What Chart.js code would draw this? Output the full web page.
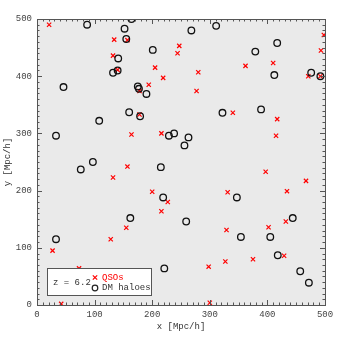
<!DOCTYPE html>
<html>
<head>
<meta charset="utf-8">
<script src="https://cdn.jsdelivr.net/npm/chart.js@4/dist/chart.umd.min.js"></script>
<style>
  html, body { margin: 0; padding: 0; background: #fff; }
  #canvas { display: block; }
</style>
</head>
<body>
<canvas id="canvas" width="343" height="343"></canvas>
<script>
const ctx = document.getElementById("canvas");

// QSO positions [Mpc/h]
const qsoX = [21, 134, 157, 132, 140, 205, 219, 194, 178, 178, 164, 216, 247, 244,
  498, 493, 280, 362, 410, 277, 471, 492, 340, 417, 415, 157, 132, 200, 227, 216,
  155, 128, 27, 73, 397, 467, 331, 434, 432, 402, 329, 375, 327, 298, 429, 42, 300];
const qsoY = [490, 464, 463, 436, 411, 415, 397, 385, 374, 333, 298, 300, 453, 440,
  472, 445, 407, 418, 423, 374, 400, 400, 336, 325, 296, 242, 223, 198, 180, 164,
  135, 115, 95, 64, 233, 217, 197, 199, 146, 136, 131, 80, 76, 67, 86, 2, 4];

// DM halo positions [Mpc/h]
const haloX = [87, 164, 152, 155, 201, 141, 140, 132, 46, 175, 177, 190, 160, 179,
  108, 33, 229, 238, 268, 311, 417, 379, 476, 412, 492, 322, 389, 263, 256, 97, 76,
  215, 219, 162, 33, 221, 347, 259, 444, 354, 405, 418, 457, 472];
const haloY = [490, 500, 483, 465, 446, 431, 410, 406, 381, 382, 378, 369, 337, 330,
  322, 296, 296, 300, 480, 488, 458, 443, 406, 402, 400, 336, 342, 293, 279, 250, 237,
  241, 188, 152, 115, 64, 188, 146, 152, 119, 119, 87, 59, 39];

const axisTicks = [0, 100, 200, 300, 400, 500];
const legendLabel = "z = 6.2";

const toPoints = (xs, ys) => xs.map((x, i) => ({ x: x, y: ys[i] }));

const textFont = "'Liberation Mono', 'DejaVu Sans Mono', monospace";

const frame = {
  id: "frame",
  beforeDatasetsDraw(chart) {
    const { ctx, chartArea: a } = chart;
    ctx.save();
    // light grey stands in for the particle field
    ctx.fillStyle = "#eaeaea";
    ctx.fillRect(a.left, a.top, a.right - a.left, a.bottom - a.top);
    ctx.restore();
  },
  afterDatasetsDraw(chart) {
    const { ctx, chartArea: a, scales } = chart;
    ctx.save();

    // legend box
    const lx = Math.round(scales.x.getPixelForValue(18)), ly = Math.round(scales.y.getPixelForValue(64));
    const lw = 104, lh = 27;
    ctx.fillStyle = "#fff";
    ctx.fillRect(lx, ly, lw, lh);
    ctx.strokeStyle = "#555";
    ctx.lineWidth = 1;
    ctx.strokeRect(lx + 0.5, ly + 0.5, lw, lh);

    ctx.font = "9px " + textFont;
    ctx.textBaseline = "middle";
    ctx.textAlign = "left";
    ctx.fillStyle = "#333";
    ctx.fillText(legendLabel, lx + 6, ly + 15);

    // QSO marker
    const mx = lx + 48;
    ctx.strokeStyle = "red";
    ctx.lineWidth = 1.2;
    ctx.beginPath();
    ctx.moveTo(mx - 2.2, ly + 7.3); ctx.lineTo(mx + 2.2, ly + 11.7);
    ctx.moveTo(mx + 2.2, ly + 7.3); ctx.lineTo(mx - 2.2, ly + 11.7);
    ctx.stroke();
    ctx.fillStyle = "red";
    ctx.fillText(chart.data.datasets[0].label, lx + 55, ly + 9.5);

    // halo marker
    ctx.strokeStyle = "#222";
    ctx.beginPath();
    ctx.arc(mx, ly + 20, 2.8, 0, Math.PI * 2);
    ctx.stroke();
    ctx.fillStyle = "#333";
    ctx.fillText(chart.data.datasets[1].label, lx + 55, ly + 20);

    // frame and inward ticks on all sides
    ctx.strokeStyle = "#555";
    ctx.lineWidth = 1;
    ctx.strokeRect(Math.round(a.left) + 0.5, Math.round(a.top) + 0.5,
      Math.round(a.right - a.left), Math.round(a.bottom - a.top));
    ctx.beginPath();
    for (let v = 0; v <= 500; v += 10) {
      const len = v % 100 === 0 ? 5 : 2.5;
      const px = Math.round(scales.x.getPixelForValue(v)) + 0.5;
      const py = Math.round(scales.y.getPixelForValue(v)) + 0.5;
      ctx.moveTo(px, a.bottom); ctx.lineTo(px, a.bottom - len);
      ctx.moveTo(px, a.top); ctx.lineTo(px, a.top + len);
      ctx.moveTo(a.left, py); ctx.lineTo(a.left + len, py);
      ctx.moveTo(a.right, py); ctx.lineTo(a.right - len, py);
    }
    ctx.stroke();
    ctx.restore();
  },
};

const data = {
  datasets: [
    {
      label: "QSOs",
      data: toPoints(qsoX, qsoY),
      pointStyle: "crossRot",
      pointRadius: 3,
      pointBorderColor: "red",
      pointBorderWidth: 1.2,
      showLine: false,
      order: 2,
    },
    {
      label: "DM haloes",
      data: toPoints(haloX, haloY),
      pointStyle: "circle",
      pointRadius: 3.3,
      pointBackgroundColor: "rgba(0,0,0,0)",
      pointBorderColor: "#111",
      pointBorderWidth: 1.3,
      showLine: false,
      order: 1,
    },
  ],
};

const tickFont = { family: textFont, size: 9 };

const config = {
  type: "scatter",
  data: data,
  plugins: [frame],
  options: {
    responsive: false,
    animation: false,
    layout: { padding: { top: 19, right: 18, left: 0, bottom: 0 } },
    plugins: {
      legend: { display: false },
      tooltip: { enabled: false },
    },
    scales: {
      x: {
        type: "linear",
        min: 0,
        max: 500,
        afterBuildTicks: (s) => { s.ticks = axisTicks.map((v) => ({ value: v })); },
        afterFit: (s) => { s.height = 38; },
        grid: { display: false, drawTicks: false, tickLength: 0 },
        border: { display: false },
        ticks: { font: tickFont, color: "#444", padding: 4, maxRotation: 0 },
        title: {
          display: true,
          text: "x [Mpc/h]",
          font: { family: textFont, size: 9 },
          color: "#333",
          padding: { top: 0, bottom: 11 },
        },
      },
      y: {
        type: "linear",
        min: 0,
        max: 500,
        afterBuildTicks: (s) => { s.ticks = axisTicks.map((v) => ({ value: v })); },
        afterFit: (s) => { s.width = 37; },
        grid: { display: false, drawTicks: false, tickLength: 0 },
        border: { display: false },
        ticks: { font: tickFont, color: "#444", padding: 5 },
        title: {
          display: true,
          text: "y [Mpc/h]",
          font: { family: textFont, size: 9 },
          color: "#333",
          padding: { top: 2, bottom: 0 },
        },
      },
    },
  },
};

new Chart(ctx, config);
</script>
</body>
</html>
